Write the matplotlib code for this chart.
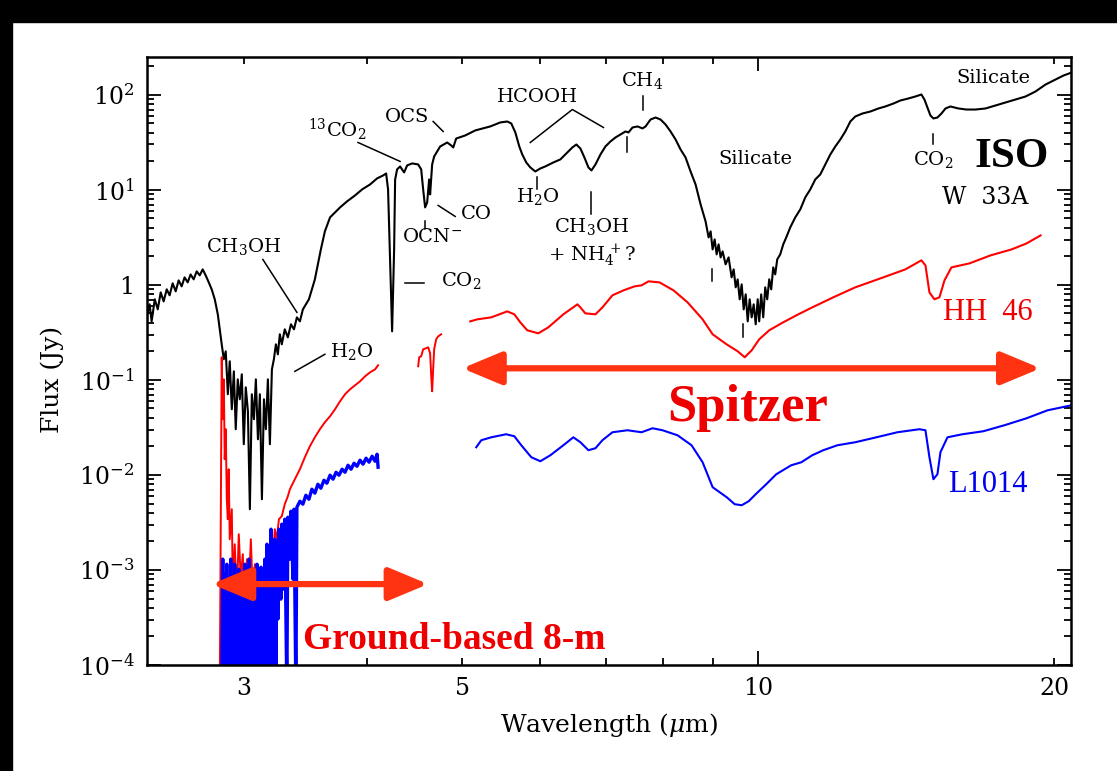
import numpy as np
import matplotlib.pyplot as plt
from matplotlib.patches import FancyArrowPatch, Rectangle
from matplotlib.ticker import FixedLocator, FuncFormatter, LogLocator, NullFormatter

plt.rcParams['font.family'] = 'DejaVu Serif'
plt.rcParams['mathtext.fontset'] = 'dejavuserif'

# wavelengths in micron, fluxes given as log10(F / Jy)

# W 33A, ISO-SWS
w33a_wl = [2.389, 2.405, 2.416, 2.434, 2.451, 2.468, 2.485, 2.503, 2.520, 2.538,
           2.556, 2.574, 2.592, 2.610, 2.629, 2.647, 2.666, 2.685, 2.704, 2.723,
           2.742, 2.762, 2.781, 2.801, 2.821, 2.834, 2.847, 2.861, 2.874, 2.888,
           2.901, 2.915, 2.929, 2.942, 2.956, 2.970, 2.984, 2.998, 3.012, 3.027,
           3.041, 3.055, 3.070, 3.084, 3.099, 3.113, 3.128, 3.143, 3.157, 3.172,
           3.187, 3.202, 3.217, 3.232, 3.247, 3.262, 3.277, 3.300, 3.324, 3.348,
           3.372, 3.395, 3.419, 3.443, 3.467, 3.492, 3.516, 3.541, 3.566, 3.591,
           3.625, 3.669, 3.712, 3.756, 3.818, 3.890, 3.955, 4.030, 4.096, 4.154,
           4.184, 4.203, 4.223, 4.243, 4.263, 4.273, 4.293, 4.323, 4.364, 4.395,
           4.447, 4.510, 4.542, 4.563, 4.584, 4.606, 4.627, 4.638, 4.660, 4.682,
           4.748, 4.827, 4.873, 4.896, 4.930, 5.035, 5.155, 5.339, 5.466, 5.556,
           5.609, 5.662, 5.715, 5.755, 5.809, 5.864, 5.933, 6.004, 6.074, 6.189,
           6.292, 6.396, 6.471, 6.532, 6.594, 6.656, 6.719, 6.767, 6.831, 6.911,
           6.992, 7.075, 7.159, 7.243, 7.328, 7.380, 7.450, 7.538, 7.627, 7.681,
           7.771, 7.863, 7.955, 8.048, 8.144, 8.240, 8.337, 8.435, 8.535, 8.635,
           8.738, 8.840, 8.903, 8.945, 8.987, 9.030, 9.072, 9.114, 9.157, 9.200,
           9.265, 9.330, 9.396, 9.441, 9.486, 9.530, 9.575, 9.620, 9.665, 9.711,
           9.757, 9.802, 9.848, 9.894, 9.941, 9.988, 10.023, 10.070, 10.118, 10.165,
           10.213, 10.261, 10.309, 10.358, 10.406, 10.455, 10.529, 10.603, 10.678, 10.779,
           10.906, 11.035, 11.164, 11.296, 11.429, 11.564, 11.700, 11.839, 11.978, 12.120,
           12.262, 12.407, 12.553, 12.762, 13.003, 13.249, 13.466, 13.723, 13.950, 14.212,
           14.446, 14.654, 14.757, 14.862, 14.967, 15.072, 15.214, 15.358, 15.503, 15.685,
           15.982, 16.284, 16.632, 17.025, 17.430, 17.844, 18.266, 18.700, 19.143, 19.597,
           20.061, 20.440, 20.830]
w33a_logf = [-0.342, -0.205, -0.384, -0.152, -0.258, -0.079, -0.174, -0.047, -0.110, 0.016,
             -0.068, 0.047, -0.016, 0.079, 0.026, 0.110, 0.058, 0.142, 0.100, 0.163,
             0.100, 0.026, -0.047, -0.152, -0.310, -0.468, -0.626, -0.783, -0.699, -1.151,
             -0.804, -1.309, -0.910, -1.519, -0.994, -1.204, -0.941, -1.677, -1.078, -1.330,
             -2.361, -1.151, -1.414, -0.994, -1.625, -1.151, -2.256, -1.204, -1.519, -0.994,
             -1.677, -0.889, -0.783, -0.626, -0.731, -0.520, -0.626, -0.468, -0.552, -0.415,
             -0.468, -0.342, -0.384, -0.258, -0.205, -0.152, -0.047, 0.058, 0.216, 0.373,
             0.563, 0.710, 0.762, 0.815, 0.878, 0.941, 1.004, 1.057, 1.120, 1.151,
             1.172, 1.004, 0.268, -0.489, 0.373, 1.109, 1.215, 1.246, 1.183, 1.257,
             1.278, 1.267, 1.215, 1.004, 0.815, 0.868, 1.109, 0.952, 1.267, 1.351,
             1.456, 1.498, 1.467, 1.446, 1.540, 1.572, 1.625, 1.667, 1.709, 1.719,
             1.698, 1.604, 1.456, 1.372, 1.288, 1.236, 1.193, 1.225, 1.246, 1.288,
             1.320, 1.393, 1.446, 1.477, 1.435, 1.341, 1.236, 1.204, 1.267, 1.372,
             1.456, 1.509, 1.551, 1.583, 1.614, 1.604, 1.656, 1.667, 1.646, 1.667,
             1.740, 1.761, 1.740, 1.688, 1.614, 1.530, 1.425, 1.341, 1.193, 1.057,
             0.846, 0.668, 0.499, 0.563, 0.373, 0.478, 0.321, 0.426, 0.289, 0.352,
             0.216, 0.289, 0.079, 0.163, -0.026, 0.058, -0.152, 0.005, -0.258, -0.100,
             -0.384, -0.152, -0.342, -0.205, -0.415, -0.152, -0.384, -0.100, -0.342, -0.026,
             -0.152, 0.058, -0.047, 0.184, 0.110, 0.268, 0.321, 0.426, 0.499, 0.605,
             0.710, 0.794, 0.920, 1.004, 1.109, 1.162, 1.267, 1.372, 1.456, 1.530,
             1.614, 1.719, 1.772, 1.803, 1.824, 1.856, 1.877, 1.908, 1.940, 1.961,
             1.982, 2.003, 1.951, 1.866, 1.782, 1.751, 1.761, 1.803, 1.856, 1.877,
             1.856, 1.845, 1.845, 1.856, 1.887, 1.919, 1.951, 1.982, 2.035, 2.108,
             2.161, 2.203, 2.234]

# HH 46, ground-based 8-m L band
hh46_gb_wl = [2.834, 2.847, 2.854, 2.861, 2.867, 2.874, 2.881, 2.888, 2.894, 2.901,
              2.915, 2.922, 2.935, 2.949, 2.963, 2.977, 2.991, 3.005, 3.020, 3.034,
              3.048, 3.063, 3.077, 3.092, 3.106, 3.121, 3.135, 3.150, 3.165, 3.180,
              3.195, 3.209, 3.224, 3.239, 3.255, 3.277, 3.300, 3.324, 3.340, 3.379,
              3.419, 3.459, 3.500, 3.541, 3.583, 3.625, 3.669, 3.712, 3.756, 3.800,
              3.845, 3.890, 3.936, 3.983, 4.030, 4.077, 4.106]
hh46_gb_logf = [-4.3, -0.762, -1.414, -0.993, -1.835, -1.519, -2.256, -2.466, -1.940, -2.677,
                -2.361, -3.202, -2.729, -3.307, -2.624, -3.097, -2.834, -3.412, -2.887, -3.202,
                -2.677, -3.307, -2.940, -3.412, -2.992, -3.254, -3.013, -3.307, -2.908, -3.202,
                -2.760, -2.887, -2.571, -2.677, -2.466, -2.434, -2.308, -2.224, -2.150, -2.045,
                -1.940, -1.814, -1.698, -1.604, -1.519, -1.446, -1.383, -1.309, -1.225, -1.151,
                -1.099, -1.057, -1.015, -0.962, -0.920, -0.889, -0.846]

# HH 46, ground-based M band
hh46_m_wl = [4.510, 4.521, 4.542, 4.563, 4.595, 4.617, 4.638, 4.649, 4.660, 4.671,
             4.682, 4.704, 4.726, 4.759]
hh46_m_logf = [-0.857, -0.762, -0.751, -0.678, -0.667, -0.657, -0.720, -0.941, -1.120, -0.889,
               -0.678, -0.573, -0.542, -0.520]

# HH 46, Spitzer IRS
hh46_irs_wl = [5.095, 5.179, 5.352, 5.556, 5.649, 5.728, 5.822, 5.976, 6.117, 6.336,
               6.548, 6.594, 6.671, 6.831, 6.943, 7.108, 7.294, 7.485, 7.609, 7.735,
               7.937, 8.201, 8.475, 8.779, 8.987, 9.287, 9.530, 9.689, 9.848, 10.023,
               10.261, 10.603, 10.984, 11.349, 11.922, 12.553, 13.404, 14.114, 14.654, 14.793,
               14.932, 15.108, 15.286, 15.467, 15.722, 16.399, 17.227, 18.096, 18.744, 19.369]
hh46_irs_logf = [-0.384, -0.363, -0.342, -0.279, -0.310, -0.394, -0.478, -0.510, -0.447, -0.310,
                 -0.205, -0.237, -0.300, -0.310, -0.237, -0.110, -0.058, -0.016, -0.005, 0.037,
                 0.026, -0.058, -0.184, -0.363, -0.520, -0.626, -0.699, -0.762, -0.689, -0.573,
                 -0.478, -0.394, -0.310, -0.237, -0.131, -0.026, 0.079, 0.163, 0.258, 0.205,
                 -0.079, -0.152, -0.131, 0.047, 0.184, 0.226, 0.310, 0.373, 0.436, 0.520]

# L1014, ground-based 8-m L band
l1014_gb_wl = [2.847, 2.854, 2.861, 2.867, 2.874, 2.881, 2.888, 2.894, 2.901, 2.908,
               2.915, 2.922, 2.929, 2.935, 2.942, 2.949, 2.956, 2.963, 2.970, 2.977,
               2.984, 2.991, 2.998, 3.005, 3.012, 3.020, 3.027, 3.034, 3.041, 3.048,
               3.055, 3.063, 3.070, 3.077, 3.084, 3.092, 3.099, 3.106, 3.113, 3.121,
               3.128, 3.135, 3.143, 3.150, 3.157, 3.165, 3.172, 3.180, 3.187, 3.195,
               3.202, 3.209, 3.217, 3.224, 3.232, 3.239, 3.247, 3.255, 3.270, 3.277,
               3.293, 3.300, 3.316, 3.324, 3.340, 3.348, 3.364, 3.372, 3.387, 3.395,
               3.419, 3.443, 3.467, 3.492, 3.516, 3.541, 3.566, 3.591, 3.617, 3.642,
               3.669, 3.695, 3.721, 3.747, 3.774, 3.800, 3.827, 3.854, 3.881, 3.908,
               3.936, 3.964, 3.992, 4.020, 4.049, 4.077, 4.096, 4.106]
l1014_gb_logf = [-4.3, -2.886, -4.3, -3.044, -4.3, -2.940, -4.3, -3.097, -4.3, -2.886,
                 -4.3, -3.202, -4.3, -2.940, -4.3, -3.149, -4.3, -2.992, -4.3, -3.254,
                 -4.3, -3.044, -4.3, -2.940, -4.3, -3.202, -4.3, -2.886, -4.3, -3.097,
                 -4.3, -2.992, -4.3, -3.202, -4.3, -2.940, -4.3, -3.097, -4.3, -2.971,
                 -4.3, -3.149, -4.3, -2.886, -4.3, -2.729, -4.3, -2.834, -4.3, -2.571,
                 -4.3, -2.781, -3.728, -2.677, -4.3, -2.729, -3.517, -2.571, -3.307, -2.518,
                 -3.202, -2.466, -4.3, -2.445, -2.886, -2.382, -3.097, -2.361, -4.3, -2.340,
                 -2.277, -2.308, -2.214, -2.256, -2.150, -2.192, -2.098, -2.140, -2.056, -2.087,
                 -2.003, -2.045, -1.972, -2.003, -1.940, -1.972, -1.898, -1.940, -1.877, -1.909,
                 -1.845, -1.887, -1.824, -1.866, -1.803, -1.856, -1.782, -1.919]

# L1014, Spitzer IRS
l1014_irs_wl = [5.167, 5.228, 5.352, 5.542, 5.649, 5.742, 5.878, 6.004, 6.146, 6.336,
                6.486, 6.594, 6.719, 6.831, 6.943, 7.108, 7.363, 7.609, 7.808, 7.992,
                8.279, 8.555, 8.779, 8.987, 9.136, 9.287, 9.464, 9.620, 9.779, 9.941,
                10.189, 10.431, 10.805, 11.061, 11.349, 11.646, 12.035, 12.553, 13.188, 13.853,
                14.586, 14.793, 14.932, 15.072, 15.214, 15.322, 15.576, 16.132, 16.946, 17.801,
                18.744, 19.690, 20.830]
l1014_irs_logf = [-1.709, -1.635, -1.604, -1.572, -1.593, -1.688, -1.814, -1.856, -1.793, -1.688,
                  -1.604, -1.656, -1.740, -1.719, -1.635, -1.551, -1.530, -1.551, -1.509, -1.530,
                  -1.583, -1.688, -1.867, -2.129, -2.182, -2.234, -2.308, -2.319, -2.277, -2.203,
                  -2.098, -1.993, -1.898, -1.867, -1.793, -1.740, -1.688, -1.656, -1.604, -1.551,
                  -1.519, -1.530, -1.814, -2.045, -1.993, -1.761, -1.604, -1.572, -1.540, -1.477,
                  -1.404, -1.320, -1.267]

# feature labels: (text, wavelength, flux)
feature_labels = [
    (r'$^{13}$CO$_2$', 3.73, 43.2),
    ('OCS', 4.395, 59.1),
    ('CO', 5.167, 5.51),
    (r'OCN$^{-}$', 4.66, 3.16),
    (r'CO$_2$', 4.988, 1.10),
    (r'CH$_3$OH', 3.0, 2.54),
    (r'H$_2$O', 3.863, 0.200),
    ('HCOOH', 5.962, 93.7),
    (r'CH$_4$', 7.627, 141),
    (r'H$_2$O', 5.962, 8.53),
    (r'CH$_3$OH', 6.767, 4.12),
    (r'+ NH$_4^{\,+}$?', 6.767, 2.04),
    ('Silicate', 9.93, 20.9),
    ('Silicate', 17.35, 152),
    (r'CO$_2$', 15.07, 20.9),
]
# leader lines and tick marks: (wl1, wl2), (f1, f2)
feature_lines = [
    ((3.917, 4.323), (31.5, 19.9)),
    ((4.671, 4.782), (52.4, 41.1)),
    ((4.726, 4.918), (6.85, 5.25)),
    ((4.584, 4.584), (4.65, 3.83)),
    ((4.374, 4.573), (1.04, 1.04)),
    ((3.135, 3.395), (1.85, 0.514)),
    ((3.379, 3.625), (0.123, 0.186)),
    ((5.864, 6.471, 6.960), (31.5, 70.0, 45.3)),
    ((7.627, 7.627), (96.0, 70.0)),
    ((7.363, 7.363), (35.6, 25.3)),
    ((5.962, 5.962), (13.8, 10.1)),
    ((6.767, 6.767), (9.4, 5.51)),
    ((8.966, 8.966), (1.456, 1.088)),
    ((9.642, 9.642), (0.384, 0.280)),
    ((15.07, 15.07), (38.3, 30.0)),
]

fig = plt.figure(figsize=(11.17, 7.71), dpi=100)
ax = fig.add_axes([0.1316, 0.1375, 0.8272, 0.7886])

ax.plot(w33a_wl, 10 ** np.array(w33a_logf), color='black', lw=1.5)
ax.plot(hh46_gb_wl, 10 ** np.array(hh46_gb_logf), color='#ff0000', lw=1.4)
ax.plot(hh46_m_wl, 10 ** np.array(hh46_m_logf), color='#ff0000', lw=1.4)
ax.plot(hh46_irs_wl, 10 ** np.array(hh46_irs_logf), color='#ff0000', lw=1.5)
ax.plot(l1014_gb_wl, 10 ** np.array(l1014_gb_logf), color='#0000ff', lw=2.4)
ax.plot(l1014_irs_wl, 10 ** np.array(l1014_irs_logf), color='#0000ff', lw=1.5)

for xs, ys in feature_lines:
    ax.plot(xs, ys, color='black', lw=1.1)
for s, x, y in feature_labels:
    ax.text(x, y, s, ha='center', va='center', fontsize=14)

ax.text(18.1, 22.4, 'ISO', ha='center', va='center', fontsize=31,
        family='Liberation Serif', weight='bold')
ax.text(17.03, 8.32, 'W  33A', ha='center', va='center', fontsize=17)
ax.text(17.13, 0.514, 'HH  46', ha='center', va='center', fontsize=22,
        family='Liberation Serif', color='#ee0000')
ax.text(17.13, 0.00798, 'L1014', ha='center', va='center', fontsize=22,
        family='Liberation Serif', color='#0000ee')
ax.text(9.745, 0.0503, 'Spitzer', ha='center', va='center', fontsize=38,
        family='Liberation Serif', weight='bold', color='#ee0000')
ax.text(4.907, 1.87e-4, 'Ground-based 8-m', ha='center', va='center', fontsize=27,
        family='Liberation Serif', weight='bold', color='#ee0000')

arrow_color = '#ff3311'
for (x1, x2), y in [((5.0, 19.37), 0.1324), ((2.781, 4.617), 7.1e-4)]:
    ax.add_patch(FancyArrowPatch((x1, y), (x2, y),
                                 arrowstyle='<|-|>,head_length=1.2,head_width=0.5',
                                 mutation_scale=20, lw=4.5, color=arrow_color,
                                 shrinkA=0, shrinkB=0, zorder=5))

ax.set_xscale('log')
ax.set_yscale('log')
ax.set_xlim(2.39, 20.8)
ax.set_ylim(1e-4, 250)

ax.xaxis.set_major_locator(FixedLocator([10]))
ax.xaxis.set_minor_locator(FixedLocator([3, 4, 5, 6, 7, 8, 9, 20]))
ax.xaxis.set_major_formatter(FuncFormatter(lambda v, p: '10'))
ax.xaxis.set_minor_formatter(FuncFormatter(
    lambda v, p: {3: '3', 5: '5', 20: '20'}.get(int(round(v)), '')))

ax.set_yticks([1e-4, 1e-3, 1e-2, 1e-1, 1, 10, 100],
              labels=[r'$10^{-4}$', r'$10^{-3}$', r'$10^{-2}$', r'$10^{-1}$',
                      '1', r'$10^{1}$', r'$10^{2}$'])
ax.yaxis.set_minor_locator(LogLocator(base=10, subs=np.arange(2, 10), numticks=20))
ax.yaxis.set_minor_formatter(NullFormatter())

ax.tick_params(which='both', direction='in', top=True, right=True, width=1.3,
               labelsize=17, pad=9)
ax.tick_params(which='major', length=10)
ax.tick_params(which='minor', length=5)
for sp in ax.spines.values():
    sp.set_linewidth(1.8)

ax.set_xlabel(r'Wavelength ($\mu$m)', fontsize=18)
ax.set_ylabel('Flux (Jy)', fontsize=18)
ax.xaxis.set_label_coords(0.5, -0.076)
ax.yaxis.set_label_coords(-0.09, 0.47)

# black frame along the top and left edges of the slide
fig.add_artist(Rectangle((0, 749 / 771), 1, 22 / 771, transform=fig.transFigure,
                         color='black', zorder=10))
fig.add_artist(Rectangle((0, 0), 12 / 1117, 1, transform=fig.transFigure,
                         color='black', zorder=10))

fig.savefig('out.png', dpi=100)
